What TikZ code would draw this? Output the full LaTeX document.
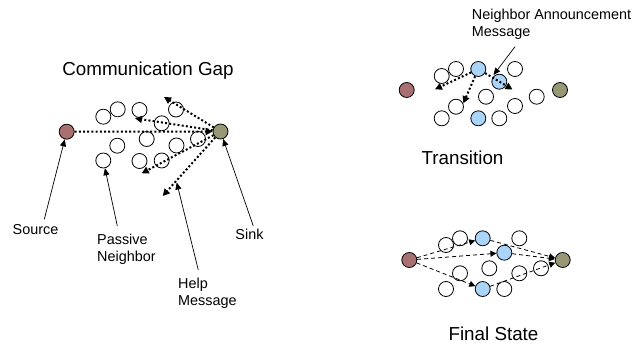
\documentclass[tikz,border=0pt]{standalone}
\usepackage{fontspec}
\setmainfont{Liberation Sans}
\usetikzlibrary{arrows.meta}
\definecolor{srccol}{RGB}{168,112,112}
\definecolor{snkcol}{RGB}{152,152,118}
\definecolor{actcol}{RGB}{170,212,250}

\begin{document}
\begin{tikzpicture}[x=1pt,y=-1pt,
  nd/.style={circle,draw=black,line width=0.8pt,minimum size=15pt,inner sep=0pt,fill=white},
  srcnode/.style={nd,fill=srccol},
  snknode/.style={nd,fill=snkcol},
  actnode/.style={nd,fill=actcol},
  dotarr/.style={line width=2pt,dash pattern=on 2pt off 2.2pt,
    -{Triangle[length=7pt,width=7pt]}},
  dasharr/.style={line width=0.8pt,dash pattern=on 4pt off 3pt,
    -{Triangle[length=6pt,width=6pt]}},
  ptr/.style={line width=0.7pt,-{Triangle[length=7pt,width=6pt]}},
  title/.style={font=\fontsize{18.8}{22}\selectfont,inner sep=0pt},
  lbl/.style={font=\fontsize{14.4}{17}\selectfont,inner sep=0pt,align=left}]

\useasboundingbox (0,0) rectangle (635,345);

% ---------- Communication Gap ----------
\node[title] (t1) at (148,71) {Communication Gap};
\node[srcnode] (src1) at (66.7,131.7) {};
\node[snknode] (snk1) at (220.5,131.5) {};
\node[nd] (a1) at (103.3,116.7) {};
\node[nd] (a2) at (117.7,109.3) {};
\node[nd] (a3) at (139.5,110) {};
\node[nd] (a4) at (176,109.5) {};
\node[nd] (a5) at (161.7,123.3) {};
\node[nd] (a6) at (146.7,139) {};
\node[nd] (a7) at (117.3,145.7) {};
\node[nd] (a8) at (103.3,160.5) {};
\node[nd] (a9) at (139.5,161) {};
\node[nd] (a10) at (161.7,160.5) {};
\node[nd] (a11) at (176.5,145.5) {};
\node[nd] (a12) at (198,139) {};

\coordinate (h1) at (164,97);
\coordinate (h2) at (135,118.3);
\coordinate (h3) at (141.7,173.3);
\coordinate (h4) at (162.7,196);
\draw[dotarr] (src1) -- (snk1);
\draw[dotarr] (snk1) -- (h1);
\draw[dotarr] (snk1) -- (h2);
\draw[dotarr] (snk1) -- (h3);
\draw[dotarr] (snk1) -- (h4);

\node[lbl] (lsrc) at (35.5,230) {Source};
\node[lbl,anchor=west] (lpas) at (97,249.5) {Passive\\Neighbor};
\node[lbl,anchor=west] (lhelp) at (178,293.5) {Help\\Message};
\node[lbl] (lsnk) at (249.5,234) {Sink};

\coordinate (p1) at (44.3,219.3);
\coordinate (p2) at (117.3,226);
\coordinate (p3) at (198.3,270);
\coordinate (p4) at (253.3,226);
\coordinate (hh) at (176.7,182.5);
\draw[ptr] (p1) -- (src1);
\draw[ptr] (p2) -- (a8);
\draw[ptr] (p3) -- (hh);
\draw[ptr] (p4) -- (snk1);

% ---------- Transition ----------
\node[title] (t2) at (462.5,158) {Transition};
\node[srcnode] (src2) at (406.7,90) {};
\node[snknode] (snk2) at (560,90) {};
\node[nd] (b4) at (441.7,76) {};
\node[nd] (b5) at (456,69) {};
\node[nd] (b6) at (515,69) {};
\node[nd] (b7) at (456,106.7) {};
\node[nd] (b8) at (486,96.7) {};
\node[nd] (b9) at (515,106) {};
\node[nd] (b10) at (536.7,96.7) {};
\node[nd] (b11) at (441.7,118.3) {};
\node[nd] (b12) at (499.3,118.3) {};
\node[actnode] (b1) at (478.3,69) {};
\node[actnode] (b2) at (499.3,81.7) {};
\node[actnode] (b3) at (478.3,118.3) {};

\coordinate (n1) at (435,89.3);
\coordinate (n2) at (463.3,103.3);
\coordinate (n3) at (512.5,89.5);
\draw[dotarr] (b1) -- (n1);
\draw[dotarr] (b1) -- (n2);
\draw[dotarr] (b1) -- (n3);

\node[lbl,anchor=west] (lna) at (471.7,24.3) {Neighbor Announcement\\Message};
\coordinate (p5) at (515,46.7);
\coordinate (nt) at (493.5,75);
\draw[ptr] (p5) -- (nt);

% ---------- Final State ----------
\node[title] (t3) at (493.5,333.5) {Final State};
\node[srcnode] (src3) at (409.3,260) {};
\node[snknode] (snk3) at (562.7,260) {};
\node[nd] (c4) at (446,245) {};
\node[nd] (c5) at (460,238.3) {};
\node[nd] (c6) at (519.3,238.3) {};
\node[nd] (c7) at (489.3,268.3) {};
\node[nd] (c8) at (460,273.3) {};
\node[nd] (c9) at (446,289) {};
\node[nd] (c10) at (504.3,289) {};
\node[nd] (c11) at (519.3,273.3) {};
\node[nd] (c12) at (541,268.3) {};
\node[actnode] (c1) at (482.7,238.3) {};
\node[actnode] (c2) at (504.3,252.7) {};
\node[actnode] (c3) at (482.7,289) {};

\draw[dasharr] (src3) -- (c1);
\draw[dasharr] (src3) -- (c2);
\draw[dasharr] (src3) -- (c3);
\draw[dasharr] (c1) -- (snk3);
\draw[dasharr] (c2) -- (snk3);
\draw[dasharr] (c3) -- (snk3);

\end{tikzpicture}
\end{document}
